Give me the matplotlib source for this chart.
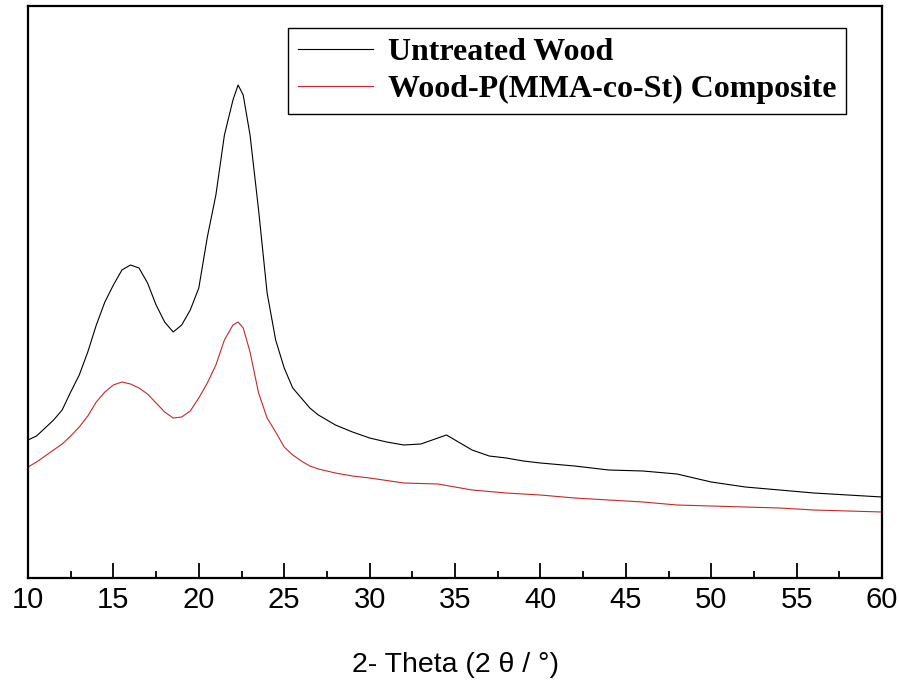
import matplotlib.pyplot as plt
from matplotlib.ticker import MultipleLocator

# XRD patterns (intensity in arbitrary units)
theta_wood = [10.0, 10.5, 11.0, 11.5, 12.0, 12.5, 13.0, 13.5, 14.0, 14.5,
              15.0, 15.5, 16.0, 16.5, 17.0, 17.5, 18.0, 18.5, 19.0, 19.5,
              20.0, 20.5, 21.0, 21.5, 22.0, 22.3, 22.6, 23.0, 23.5, 24.0,
              24.5, 25.0, 25.5, 26.0, 26.5, 27.0, 28.0, 29.0, 30.0, 31.0,
              32.0, 33.0, 34.0, 34.5, 35.0, 36.0, 37.0, 38.0, 39.0, 40.0,
              42.0, 44.0, 46.0, 48.0, 50.0, 52.0, 54.0, 56.0, 58.0, 60.0]
untreated = [138, 142, 150, 158, 168, 186, 203, 226, 253, 276,
             293, 308, 313, 310, 295, 273, 256, 246, 253, 268,
             290, 341, 383, 443, 478, 493, 483, 443, 368, 285,
             238, 210, 190, 180, 170, 163, 153, 146, 140, 136,
             133, 134, 140, 143, 138, 128, 122, 120, 117, 115,
             112, 108, 107, 104, 96, 91, 88, 85, 83, 81]

theta_comp = [10.0, 10.5, 11.0, 11.5, 12.0, 12.5, 13.0, 13.5, 14.0, 14.5,
              15.0, 15.5, 16.0, 16.5, 17.0, 17.5, 18.0, 18.5, 19.0, 19.5,
              20.0, 20.5, 21.0, 21.5, 22.0, 22.3, 22.6, 23.0, 23.5, 24.0,
              24.5, 25.0, 25.5, 26.0, 26.5, 27.0, 28.0, 29.0, 30.0, 32.0,
              34.0, 35.0, 36.0, 38.0, 40.0, 42.0, 44.0, 46.0, 48.0, 50.0,
              52.0, 54.0, 56.0, 58.0, 60.0]
composite = [111, 116, 122, 128, 134, 142, 151, 162, 176, 186,
             193, 196, 194, 190, 184, 175, 166, 160, 161, 167,
             180, 195, 213, 238, 253, 256, 250, 226, 185, 160,
             146, 131, 123, 117, 112, 109, 105, 102, 100, 95,
             94, 91, 88, 85, 83, 80, 78, 76, 73, 72,
             71, 70, 68, 67, 66]

fig = plt.figure(figsize=(8.99, 6.85), dpi=100)
ax = fig.add_axes([28 / 899, 1 - 578 / 685, (882 - 28) / 899, (578 - 6) / 685])

ax.plot(theta_wood, untreated, color="black", lw=0.8, label="Untreated Wood")
ax.plot(theta_comp, composite, color="#c62828", lw=0.8,
        label="Wood-P(MMA-co-St) Composite")

ax.set_xlim(10, 60)
ax.set_ylim(0, 572)
ax.xaxis.set_major_locator(MultipleLocator(5))
ax.xaxis.set_minor_locator(MultipleLocator(2.5))
ax.tick_params(axis="x", which="major", direction="in", length=11, width=1.3,
               labelsize=21, pad=6, top=False)
ax.tick_params(axis="x", which="minor", direction="in", length=5, width=1.3,
               top=False)
ax.set_yticks([])
for sp in ax.spines.values():
    sp.set_linewidth(1.6)

for lbl in ax.get_xticklabels():
    lbl.set_fontfamily("Liberation Sans")

fig.text(455 / 899, 1 - 665 / 685, "2- Theta (2 θ / °)", ha="center",
         va="center", fontsize=20.5, family="Liberation Sans")

leg = ax.legend(loc="upper right", bbox_to_anchor=(846 / 899, 1 - 28 / 685),
                bbox_transform=fig.transFigure, borderaxespad=0,
                prop={"family": "Liberation Serif", "weight": "bold", "size": 23},
                handlelength=2.35, handletextpad=0.47, labelspacing=0.25,
                borderpad=0.3, fancybox=False, framealpha=1)
leg.get_frame().set_edgecolor("black")
leg.get_frame().set_linewidth(1.0)

fig.savefig("out.png", dpi=100)
